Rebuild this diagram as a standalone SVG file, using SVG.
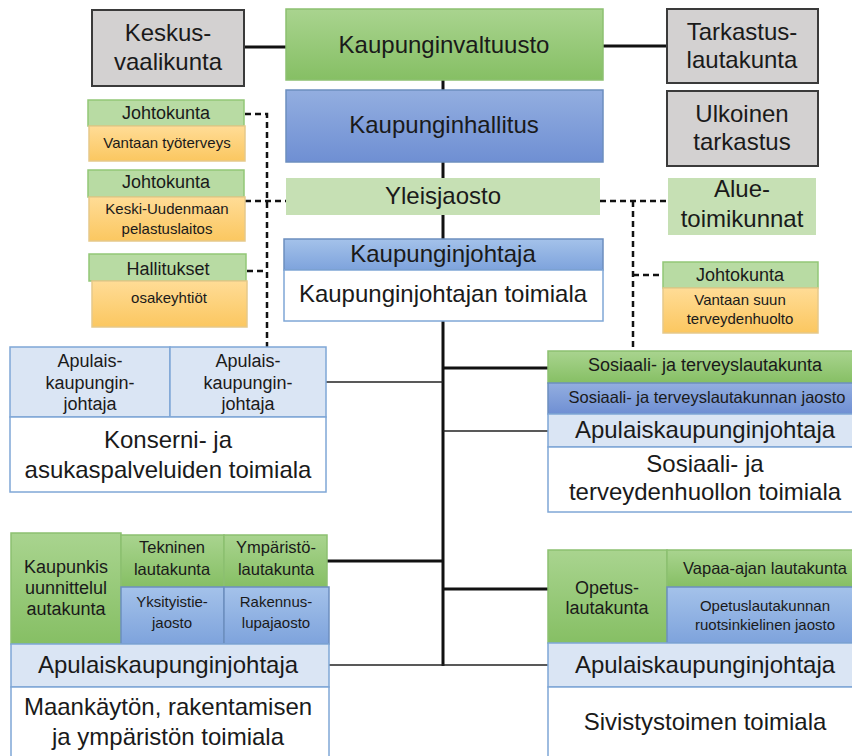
<svg xmlns="http://www.w3.org/2000/svg" width="852" height="756" viewBox="0 0 852 756">
<defs>
<linearGradient id="gGreen" x1="0" y1="0" x2="0" y2="1"><stop offset="0" stop-color="#a9d48f"/><stop offset="1" stop-color="#86bf64"/></linearGradient>
<linearGradient id="gBlue" x1="0" y1="0" x2="0" y2="1"><stop offset="0" stop-color="#93aee0"/><stop offset="1" stop-color="#6f8fd3"/></linearGradient>
<linearGradient id="gBlue2" x1="0" y1="0" x2="0" y2="1"><stop offset="0" stop-color="#a4c2ea"/><stop offset="1" stop-color="#7ea3dc"/></linearGradient>
<linearGradient id="gOrange" x1="0" y1="0" x2="0" y2="1"><stop offset="0" stop-color="#ffdc96"/><stop offset="1" stop-color="#fbc760"/></linearGradient>
<style>
text{font-family:"Liberation Sans",Arial,sans-serif;fill:#1a1a1a;text-anchor:middle}
.big{font-size:24px}
.mid{font-size:18px}
.sm{font-size:16.5px}
.xs{font-size:15px}
.gray{fill:#d3d1d1;stroke:#3a3a3a;stroke-width:2}
.green{fill:url(#gGreen);stroke:#8cc070;stroke-width:1.5}
.lgreen{fill:#c6e0b4;stroke:none}
.hgreen{fill:#b8dba3;stroke:#92c777;stroke-width:1.5}
.blue{fill:url(#gBlue);stroke:#6c8ebf;stroke-width:1.5}
.blue2{fill:url(#gBlue2);stroke:#6c8ebf;stroke-width:1.5}
.lblue{fill:#dae5f4;stroke:#7fa7d6;stroke-width:1.5}
.white{fill:#ffffff;stroke:#7fa7d6;stroke-width:1.5}
.orange{fill:url(#gOrange);stroke:#e6c98a;stroke-width:1.5}
.thick{stroke:#111;stroke-width:3;fill:none}
.thin{stroke:#222;stroke-width:1.6;fill:none}
.dash{stroke:#111;stroke-width:2.5;stroke-dasharray:6 4;fill:none}
</style>
</defs>
<rect width="852" height="756" fill="#ffffff"/>
<g id="connectors">
<line class="thick" x1="443" y1="80" x2="443" y2="666"/>
<line class="thick" x1="244" y1="47" x2="286" y2="47"/>
<line class="thick" x1="603" y1="46" x2="667" y2="46"/>
<line class="thin" x1="326" y1="382" x2="443" y2="382"/>
<line class="thick" x1="443" y1="368" x2="548" y2="368"/>
<line class="thin" x1="443" y1="431" x2="548" y2="431"/>
<line class="thick" x1="327" y1="561" x2="443" y2="561"/>
<line class="thick" x1="443" y1="589" x2="548" y2="589"/>
<line class="thin" x1="329" y1="665" x2="548" y2="665"/>
<path class="dash" d="M245 114 H267 V348"/>
<line class="dash" x1="245" y1="201" x2="286" y2="201"/>
<line class="dash" x1="247" y1="271" x2="267" y2="271"/>
<line class="dash" x1="600" y1="201" x2="668" y2="201"/>
<path class="dash" d="M633 201 V351"/>
<line class="dash" x1="633" y1="275" x2="663" y2="275"/>
</g>
<g id="keskusvaalikunta">
<rect class="gray" x="92" y="10" width="152" height="76"/>
<text class="big" x="168" y="41">Keskus-</text>
<text class="big" x="168" y="70">vaalikunta</text>
</g>
<g id="kaupunginvaltuusto">
<rect class="green" x="286" y="9" width="317" height="71"/>
<text class="big" x="444" y="53">Kaupunginvaltuusto</text>
</g>
<g id="tarkastuslautakunta">
<rect class="gray" x="667" y="9" width="151" height="74"/>
<text class="big" x="742" y="40">Tarkastus-</text>
<text class="big" x="742" y="68">lautakunta</text>
</g>
<g id="ulkoinen-tarkastus">
<rect class="gray" x="667" y="91" width="151" height="75"/>
<text class="big" x="742" y="122">Ulkoinen</text>
<text class="big" x="742" y="150">tarkastus</text>
</g>
<g id="kaupunginhallitus">
<rect class="blue" x="286" y="90" width="317" height="72"/>
<text class="big" x="444" y="133">Kaupunginhallitus</text>
</g>
<g id="yleisjaosto">
<rect class="lgreen" x="286" y="178" width="314" height="37"/>
<text class="big" x="443" y="204">Yleisjaosto</text>
</g>
<g id="aluetoimikunnat">
<rect class="lgreen" x="668" y="178" width="148" height="57"/>
<text class="big" x="742" y="197">Alue-</text>
<text class="big" x="742" y="227">toimikunnat</text>
</g>
<g id="johtokunta-tyoterveys">
<rect class="hgreen" x="88" y="100" width="156" height="26"/>
<text class="mid" x="166" y="119">Johtokunta</text>
<rect class="orange" x="89" y="126" width="156" height="35"/>
<text class="xs" x="167" y="148">Vantaan työterveys</text>
</g>
<g id="johtokunta-pelastuslaitos">
<rect class="hgreen" x="88" y="170" width="156" height="27"/>
<text class="mid" x="166" y="188">Johtokunta</text>
<rect class="orange" x="89" y="197" width="156" height="44"/>
<text class="xs" x="167" y="214">Keski-Uudenmaan</text>
<text class="xs" x="167" y="234">pelastuslaitos</text>
</g>
<g id="hallitukset">
<rect class="hgreen" x="89" y="254" width="157" height="27"/>
<text class="mid" x="168" y="275">Hallitukset</text>
<rect class="orange" x="92" y="281" width="155" height="46"/>
<text class="xs" x="169" y="303">osakeyhtiöt</text>
</g>
<g id="kaupunginjohtaja">
<rect class="blue2" x="284" y="239" width="319" height="31"/>
<text class="big" x="443" y="262">Kaupunginjohtaja</text>
<rect class="white" x="284" y="270" width="319" height="51"/>
<text class="big" x="443" y="302">Kaupunginjohtajan toimiala</text>
</g>
<g id="johtokunta-suun">
<rect class="hgreen" x="663" y="262" width="155" height="26"/>
<text class="mid" x="740" y="281">Johtokunta</text>
<rect class="orange" x="663" y="288" width="155" height="45"/>
<text class="xs" x="740" y="305">Vantaan suun</text>
<text class="xs" x="740" y="324">terveydenhuolto</text>
</g>
<g id="konserni">
<rect class="lblue" x="10" y="347" width="160" height="70"/>
<rect class="lblue" x="170" y="347" width="156" height="70"/>
<text class="mid" x="90" y="367">Apulais-</text>
<text class="mid" x="90" y="389">kaupungin-</text>
<text class="mid" x="90" y="410">johtaja</text>
<text class="mid" x="248" y="367">Apulais-</text>
<text class="mid" x="248" y="389">kaupungin-</text>
<text class="mid" x="248" y="410">johtaja</text>
<rect class="white" x="10" y="417" width="316" height="75"/>
<text class="big" x="168" y="448">Konserni- ja</text>
<text class="big" x="168" y="478">asukaspalveluiden toimiala</text>
</g>
<g id="sosiaali-terveys">
<rect class="green" x="548" y="351" width="310" height="32"/>
<text class="mid" x="705" y="371">Sosiaali- ja terveyslautakunta</text>
<rect class="blue" x="548" y="383" width="310" height="31"/>
<text class="sm" x="707" y="403">Sosiaali- ja terveyslautakunnan jaosto</text>
<rect class="lblue" x="548" y="414" width="310" height="33"/>
<text class="big" x="705" y="438">Apulaiskaupunginjohtaja</text>
<rect class="white" x="548" y="447" width="310" height="65"/>
<text class="big" x="705" y="472">Sosiaali- ja</text>
<text class="big" x="705" y="500">terveydenhuollon toimiala</text>
</g>
<g id="maankaytto">
<rect class="green" x="11" y="533" width="110" height="111"/>
<text class="mid" x="66" y="573">Kaupunkis</text>
<text class="mid" x="66" y="594">uunnittelul</text>
<text class="mid" x="66" y="615">autakunta</text>
<rect class="green" x="121" y="535" width="103" height="52"/>
<text class="sm" x="172" y="553">Tekninen</text>
<text class="sm" x="172" y="575">lautakunta</text>
<rect class="green" x="224" y="535" width="103" height="52"/>
<text class="sm" x="276" y="553">Ympäristö-</text>
<text class="sm" x="276" y="575">lautakunta</text>
<rect class="blue2" x="121" y="587" width="103" height="57"/>
<text class="xs" x="172" y="607">Yksityistie-</text>
<text class="xs" x="172" y="628">jaosto</text>
<rect class="blue2" x="224" y="587" width="105" height="57"/>
<text class="xs" x="276" y="607">Rakennus-</text>
<text class="xs" x="276" y="628">lupajaosto</text>
<rect class="lblue" x="11" y="644" width="318" height="43"/>
<text class="big" x="168" y="673">Apulaiskaupunginjohtaja</text>
<rect class="white" x="11" y="687" width="318" height="75"/>
<text class="big" x="168" y="715">Maankäytön, rakentamisen</text>
<text class="big" x="168" y="745">ja ympäristön toimiala</text>
</g>
<g id="sivistystoimi">
<rect class="green" x="548" y="550" width="119" height="93"/>
<text class="mid" x="607" y="594">Opetus-</text>
<text class="mid" x="607" y="614">lautakunta</text>
<rect class="green" x="667" y="550" width="191" height="37"/>
<text class="sm" x="765" y="574">Vapaa-ajan lautakunta</text>
<rect class="blue2" x="667" y="587" width="191" height="56"/>
<text class="xs" x="765" y="611">Opetuslautakunnan</text>
<text class="xs" x="765" y="630">ruotsinkielinen jaosto</text>
<rect class="lblue" x="548" y="643" width="310" height="44"/>
<text class="big" x="705" y="673">Apulaiskaupunginjohtaja</text>
<rect class="white" x="548" y="687" width="310" height="75"/>
<text class="big" x="705" y="730">Sivistystoimen toimiala</text>
</g>
</svg>
